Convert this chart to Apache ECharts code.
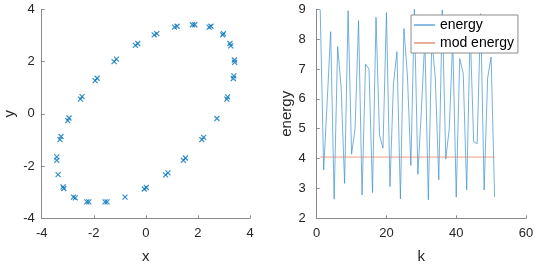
<!DOCTYPE html>
<html><head><meta charset="utf-8">
<script src="https://cdn.jsdelivr.net/npm/echarts@6/dist/echarts.min.js"></script>
<style>html,body{margin:0;padding:0;background:#fff}#c{width:540px;height:270px}</style>
</head><body><div id="c"></div>
<script>
// Left panel: scatter points (x, y)
const scatterX = [1.79, 1.88, 2.43, 2.50, 2.95, 2.98, 3.23, 3.26, 3.40, 3.41, 3.38, 3.36, 3.11, 3.14, 2.73,
  2.15, 2.22, 1.44, 1.52, 0.76, 0.85, -0.06, 0.02, -0.80, -1.57, -1.49, -2.27, -2.19, -2.78, -2.71,
  -3.18, -3.15, -3.37, -3.42, -3.42, -3.30, -3.26, -3.00, -2.95, -2.51, -2.45, -1.95, -1.87, -1.22, -1.13,
  -0.40, -0.31, 0.32, 0.42, 1.10, 1.20];
const scatterY = [3.41, 3.41, 3.32, 3.35, 3.02, 3.07, 2.69, 2.60, 2.06, 1.97, 1.45, 1.35, 0.56, 0.65, -0.18,
  -0.99, -0.90, -1.78, -1.69, -2.34, -2.26, -2.88, -2.82, -3.19, -3.37, -3.37, -3.37, -3.37, -3.19, -3.22,
  -2.80, -2.86, -2.33, -1.65, -1.78, -0.99, -0.87, -0.26, -0.16, 0.56, 0.66, 1.27, 1.36, 2.00, 2.09,
  2.62, 2.69, 3.02, 3.07, 3.32, 3.35];
const xTicks = [-4, -2, 0, 2, 4];
const yTicks = [-4, -2, 0, 2, 4];

// Right panel: energy vs k
const kValues = [1,2,3,4,5,6,7,8,9,10,11,12,13,14,15,16,17,18,19,20,21,22,23,24,25,26,27,28,29,30,
  31,32,33,34,35,36,37,38,39,40,41,42,43,44,45,46,47,48,49,50,51];
const energy = [9.0, 3.62, 5.9, 8.25, 2.64, 7.75, 6.4, 3.17, 8.95, 4.15, 5.0, 8.62, 2.78, 7.16, 7.0,
  2.86, 8.73, 4.79, 4.35, 8.89, 3.06, 6.5, 7.58, 2.65, 8.36, 6.8, 3.77, 9.0, 3.47, 5.6,
  8.0, 2.62, 8.0, 6.7, 3.29, 8.98, 3.98, 5.0, 8.0, 2.71, 7.35, 6.85, 2.95, 8.3, 4.56,
  4.5, 8.85, 2.95, 6.7, 7.4, 2.71];
const modK = [1, 51];
const modEnergy = [4.05, 4.05];
const kTicks = [0, 20, 40, 60];
const energyTicks = [2, 3, 4, 5, 6, 7, 8, 9];

const FONT = 'Liberation Sans';
const axisGray = '#8a8a8a';
function axisBase(extra) {
  return Object.assign({
    axisLine: {show: true, onZero: false, lineStyle: {color: axisGray, width: 1}},
    axisTick: {show: true, inside: true, length: 3, lineStyle: {color: axisGray, width: 1}},
    splitLine: {show: false},
    nameTextStyle: {color: '#262626', fontSize: 15, fontFamily: FONT},
  }, extra);
}
const labelStyle = (m) => ({color: '#262626', fontSize: 13, fontFamily: FONT, margin: m});

const chart = echarts.init(document.getElementById('c'), null, {renderer: 'canvas'});
chart.setOption({
  animation: false,
  backgroundColor: '#fff',
  grid: [
    {left: 41.7, right: 290, top: 9.3, bottom: 51.7},
    {left: 316.7, right: 14, top: 9.3, bottom: 51.7}
  ],
  xAxis: [
    axisBase({gridIndex: 0, type: 'value', min: xTicks[0], max: xTicks[xTicks.length-1], interval: 2,
      name: 'x', nameLocation: 'middle', nameGap: 31, axisLabel: labelStyle(9)}),
    axisBase({gridIndex: 1, type: 'value', min: kTicks[0], max: kTicks[kTicks.length-1], interval: 20,
      name: 'k', nameLocation: 'middle', nameGap: 31, axisLabel: labelStyle(9)})
  ],
  yAxis: [
    axisBase({gridIndex: 0, type: 'value', min: yTicks[0], max: yTicks[yTicks.length-1], interval: 2,
      name: 'y', nameLocation: 'middle', nameGap: 24, axisLabel: labelStyle(7)}),
    axisBase({gridIndex: 1, type: 'value', min: energyTicks[0], max: energyTicks[energyTicks.length-1], interval: 1,
      name: 'energy', nameLocation: 'middle', nameGap: 14, axisLabel: labelStyle(11)})
  ],
  legend: {
    data: ['energy', 'mod energy'],
    orient: 'vertical', left: 411, top: 15,
    backgroundColor: '#fff', borderColor: '#8c8c8c', borderWidth: 1, borderRadius: 0,
    padding: [3, 4, 3, 3], itemGap: 4, itemWidth: 21, itemHeight: 1.2, icon: 'rect',
    textStyle: {fontSize: 14, color: '#000', fontFamily: FONT}
  },
  series: [
    {
      type: 'scatter', xAxisIndex: 0, yAxisIndex: 0,
      data: scatterX.map((x, i) => [x, scatterY[i]]),
      symbol: 'path://M0,0L10,10M10,0L0,10', symbolSize: 5,
      itemStyle: {color: 'none', borderColor: '#0072BD', borderWidth: 1.2}
    },
    {
      name: 'energy', type: 'line', xAxisIndex: 1, yAxisIndex: 1,
      data: kValues.map((k, i) => [k, energy[i]]),
      showSymbol: false, symbol: 'none', color: '#3c8fd0',
      lineStyle: {color: '#3c8fd0', width: 0.7}
    },
    {
      name: 'mod energy', type: 'line', xAxisIndex: 1, yAxisIndex: 1,
      data: modK.map((k, i) => [k, modEnergy[i]]),
      showSymbol: false, symbol: 'none', color: '#e07a50',
      lineStyle: {color: '#e07a50', width: 0.7}
    }
  ]
});
</script></body></html>
